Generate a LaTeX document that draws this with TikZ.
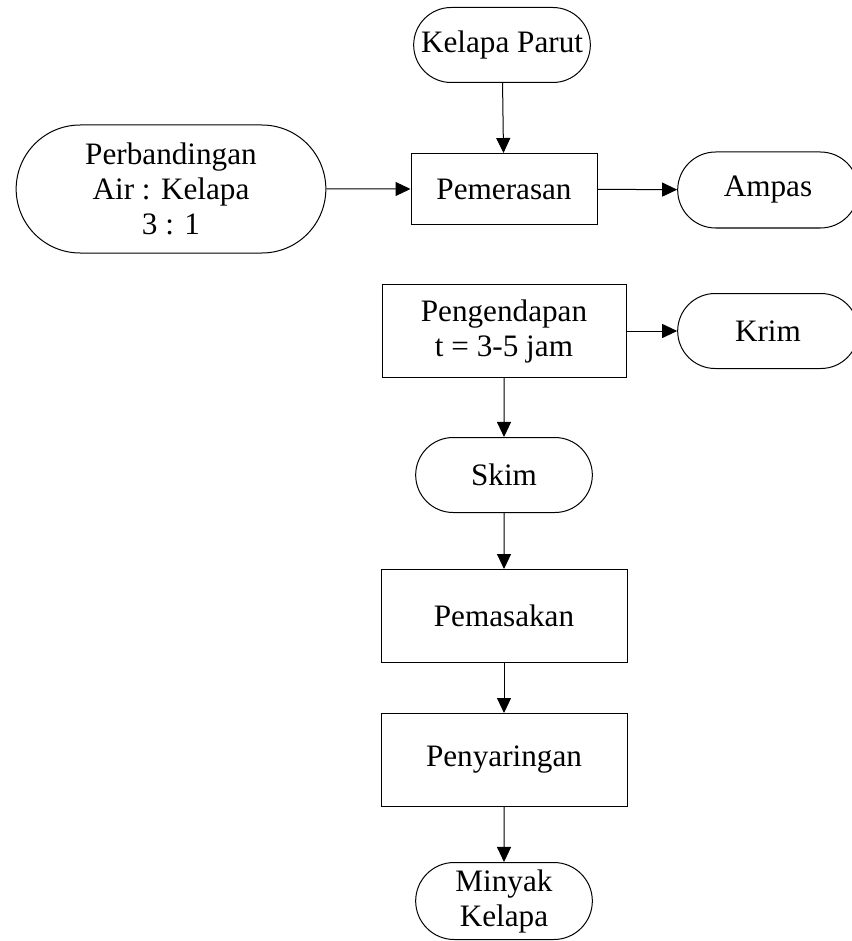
\documentclass[tikz,border=0pt]{standalone}
\usepackage{fontspec}
\setmainfont{Liberation Serif}
\usetikzlibrary{arrows.meta,shapes.misc}
\begin{document}
\begin{tikzpicture}[x=0.5pt,y=-0.5pt]

\tikzset{proc/.style = {shape=rectangle,draw,line width=0.5pt,align=center,font=\fontsize{15.6}{17.5}\selectfont}}
\tikzset{term/.style = {shape=rounded rectangle,draw,line width=0.5pt,align=center,font=\fontsize{15.6}{17.5}\selectfont}}
\tikzset{edge/.style = {-{Triangle[length=7.5pt,width=7pt]},line width=0.5pt}}
\useasboundingbox (0,0) rectangle (851,941);
% vertices
\node[term,minimum width=95pt,minimum height=37.5pt] (kelapa) at (502,45) {Kelapa Parut};
\node[proc,minimum width=93pt,minimum height=35.5pt] (peras) at (504,189) {Pemerasan};
\node[term,minimum width=161.5pt,minimum height=64pt] (banding) at (171,189) {Perbandingan\\Air : Kelapa\\3 : 1};
\node[term,minimum width=97pt,minimum height=38pt] (ampas) at (768,190) {Ampas};
\node[proc,minimum width=122pt,minimum height=46.5pt] (endap) at (504,331) {Pengendapan\\t = 3-5 jam};
\node[term,minimum width=97pt,minimum height=37.5pt] (krim) at (768,331) {Krim};
\node[term,minimum width=95pt,minimum height=37.5pt] (skim) at (504,475) {Skim};
\node[proc,minimum width=123pt,minimum height=46.5pt] (masak) at (504,616) {Pemasakan};
\node[proc,minimum width=123pt,minimum height=46.5pt] (saring) at (504,760) {Penyaringan};
\node[term,minimum width=95pt,minimum height=38.5pt] (minyak) at (504,901) {Minyak\\Kelapa};
%edges
\draw[edge] (kelapa) to (peras);
\draw[edge] (banding) to (peras);
\draw[edge] (peras) to (ampas);
\draw[edge] (endap) to (krim);
\draw[edge] (endap) to (skim);
\draw[edge] (skim) to (masak);
\draw[edge] (masak) to (saring);
\draw[edge] (saring) to (minyak);
\end{tikzpicture}
\end{document}
